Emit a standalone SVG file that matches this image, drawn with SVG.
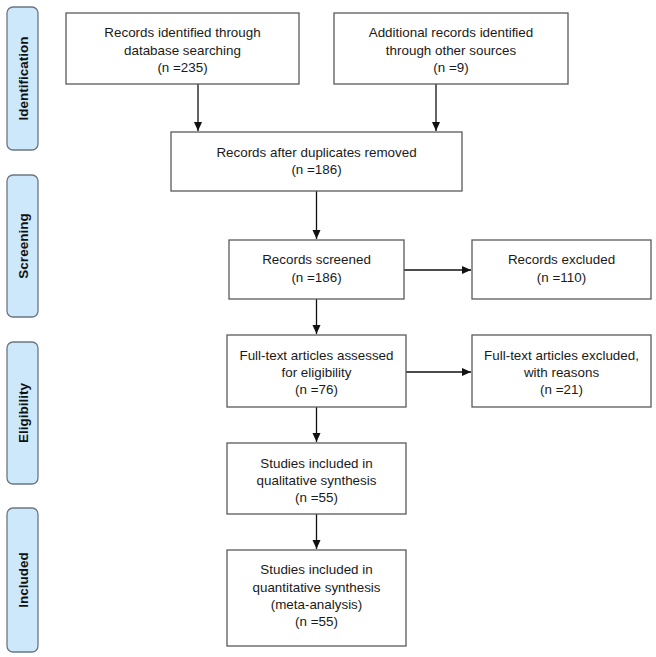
<svg xmlns="http://www.w3.org/2000/svg" width="656" height="657" viewBox="0 0 656 657">
<defs>
<style>
.box{fill:#fff;stroke:#5a5a5a;stroke-width:1.3}
.side{fill:#cde8fb;stroke:#6b7580;stroke-width:1.3}
.t{font-family:"Liberation Sans",Arial,sans-serif;font-size:13.4px;fill:#1a1a1a;text-anchor:middle}
.s{font-family:"Liberation Sans",Arial,sans-serif;font-size:13.5px;font-weight:bold;fill:#111;text-anchor:middle}
.c{fill:none;stroke:#111;stroke-width:1.3}
</style>
<marker id="ah" markerWidth="10" markerHeight="10" refX="9" refY="5" orient="auto" markerUnits="userSpaceOnUse">
<path d="M0,1 L9,5 L0,9 Z" fill="#111"/>
</marker>
</defs>
<rect width="656" height="657" fill="#fff"/>

<g id="phase-identification">
<rect class="side" x="7" y="7" width="31" height="143" rx="6"/>
<text class="s" transform="translate(27.5,78.5) rotate(-90)">Identification</text>
</g>
<g id="phase-screening">
<rect class="side" x="7" y="175" width="31" height="142" rx="6"/>
<text class="s" transform="translate(27.5,246) rotate(-90)">Screening</text>
</g>
<g id="phase-eligibility">
<rect class="side" x="7" y="342" width="31" height="142" rx="6"/>
<text class="s" transform="translate(27.5,413) rotate(-90)">Eligibility</text>
</g>
<g id="phase-included">
<rect class="side" x="7" y="508" width="31" height="144" rx="6"/>
<text class="s" transform="translate(27.5,580) rotate(-90)">Included</text>
</g>

<g id="connectors">
<path class="c" d="M198,84 V131" marker-end="url(#ah)"/>
<path class="c" d="M436,84 V131" marker-end="url(#ah)"/>
<path class="c" d="M316.5,191 V239" marker-end="url(#ah)"/>
<path class="c" d="M404,270 H471" marker-end="url(#ah)"/>
<path class="c" d="M316.5,299 V334" marker-end="url(#ah)"/>
<path class="c" d="M406,372 H471" marker-end="url(#ah)"/>
<path class="c" d="M316.5,407 V442" marker-end="url(#ah)"/>
<path class="c" d="M316.5,514 V549" marker-end="url(#ah)"/>
</g>

<g id="db-search">
<rect class="box" x="66" y="13" width="233" height="71"/>
<text class="t" x="182.5" y="37.3">Records identified through</text>
<text class="t" x="182.5" y="54.5">database searching</text>
<text class="t" x="182.5" y="71.7">(n =235)</text>
</g>
<g id="other-sources">
<rect class="box" x="334" y="13" width="234" height="71"/>
<text class="t" x="451" y="37.3">Additional records identified</text>
<text class="t" x="451" y="54.5">through other sources</text>
<text class="t" x="451" y="71.7">(n =9)</text>
</g>
<g id="duplicates-removed">
<rect class="box" x="171" y="132" width="291" height="59"/>
<text class="t" x="316.5" y="156.7">Records after duplicates removed</text>
<text class="t" x="316.5" y="174.3">(n =186)</text>
</g>
<g id="screened">
<rect class="box" x="229" y="240" width="175" height="59"/>
<text class="t" x="316.5" y="264">Records screened</text>
<text class="t" x="316.5" y="281.7">(n =186)</text>
</g>
<g id="excluded">
<rect class="box" x="472" y="240" width="179" height="59"/>
<text class="t" x="561.5" y="264">Records excluded</text>
<text class="t" x="561.5" y="281.7">(n =110)</text>
</g>
<g id="fulltext-assessed">
<rect class="box" x="227" y="335" width="179" height="72"/>
<text class="t" x="316.5" y="360">Full-text articles assessed</text>
<text class="t" x="316.5" y="377">for eligibility</text>
<text class="t" x="316.5" y="394">(n =76)</text>
</g>
<g id="fulltext-excluded">
<rect class="box" x="472" y="335" width="179" height="72"/>
<text class="t" x="561.5" y="360">Full-text articles excluded,</text>
<text class="t" x="561.5" y="377">with reasons</text>
<text class="t" x="561.5" y="394">(n =21)</text>
</g>
<g id="qualitative">
<rect class="box" x="227" y="443" width="179" height="71"/>
<text class="t" x="316.5" y="467.7">Studies included in</text>
<text class="t" x="316.5" y="485">qualitative synthesis</text>
<text class="t" x="316.5" y="502.3">(n =55)</text>
</g>
<g id="quantitative">
<rect class="box" x="227" y="550" width="179" height="96"/>
<text class="t" x="316.5" y="574.3">Studies included in</text>
<text class="t" x="316.5" y="591.6">quantitative synthesis</text>
<text class="t" x="316.5" y="608.9">(meta-analysis)</text>
<text class="t" x="316.5" y="626.2">(n =55)</text>
</g>
</svg>
